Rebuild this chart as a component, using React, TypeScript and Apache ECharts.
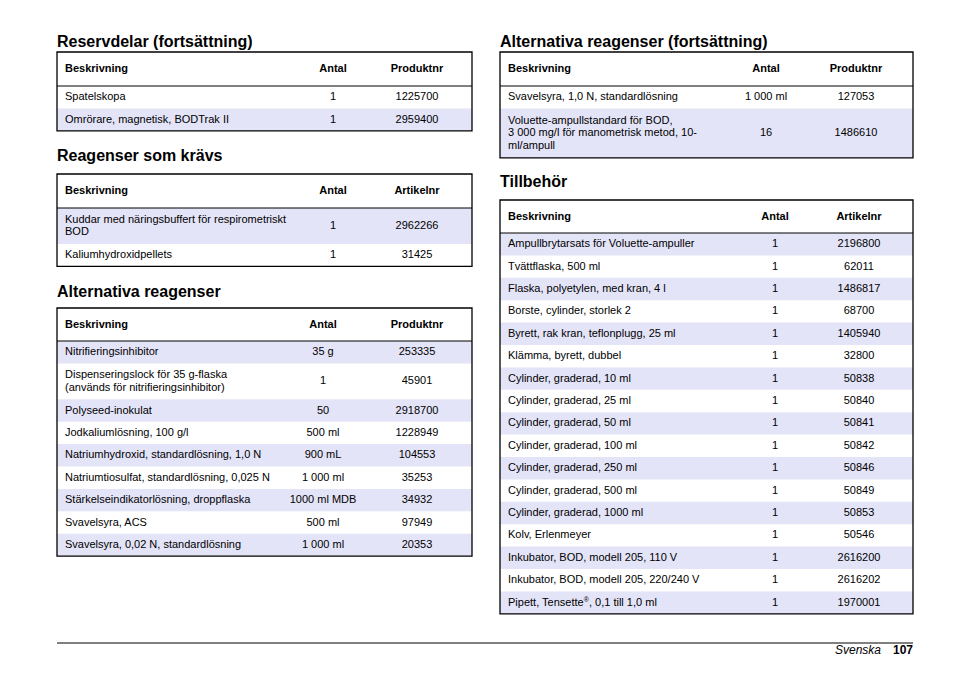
import React, { useEffect, useRef } from "react";
import * as echarts from "echarts";

const FONT = "'Liberation Sans', Arial, Helvetica, sans-serif";
const SHADE = "#E4E4F8";

// ---------- Data ----------
const t1Title = "Reservdelar (fortsättning)";
const t1Headers = ["Beskrivning", "Antal", "Produktnr"];
const t1Desc = ["Spatelskopa", "Omrörare, magnetisk, BODTrak II"];
const t1Qty = ["1", "1"];
const t1Nr = ["1225700", "2959400"];

const t2Title = "Reagenser som krävs";
const t2Headers = ["Beskrivning", "Antal", "Artikelnr"];
const t2Desc = ["Kuddar med näringsbuffert för respirometriskt\nBOD", "Kaliumhydroxidpellets"];
const t2Qty = ["1", "1"];
const t2Nr = ["2962266", "31425"];

const t3Title = "Alternativa reagenser";
const t3Headers = ["Beskrivning", "Antal", "Produktnr"];
const t3Desc = [
  "Nitrifieringsinhibitor",
  "Dispenseringslock för 35 g-flaska\n(används för nitrifieringsinhibitor)",
  "Polyseed-inokulat",
  "Jodkaliumlösning, 100 g/l",
  "Natriumhydroxid, standardlösning, 1,0 N",
  "Natriumtiosulfat, standardlösning, 0,025 N",
  "Stärkelseindikatorlösning, droppflaska",
  "Svavelsyra, ACS",
  "Svavelsyra, 0,02 N, standardlösning",
];
const t3Qty = ["35 g", "1", "50", "500 ml", "900 mL", "1 000 ml", "1000 ml MDB", "500 ml", "1 000 ml"];
const t3Nr = ["253335", "45901", "2918700", "1228949", "104553", "35253", "34932", "97949", "20353"];

const t4Title = "Alternativa reagenser (fortsättning)";
const t4Headers = ["Beskrivning", "Antal", "Produktnr"];
const t4Desc = [
  "Svavelsyra, 1,0 N, standardlösning",
  "Voluette-ampullstandard för BOD,\n3 000 mg/l för manometrisk metod, 10-\nml/ampull",
];
const t4Qty = ["1 000 ml", "16"];
const t4Nr = ["127053", "1486610"];

const t5Title = "Tillbehör";
const t5Headers = ["Beskrivning", "Antal", "Artikelnr"];
const t5Desc = [
  "Ampullbrytarsats för Voluette-ampuller",
  "Tvättflaska, 500 ml",
  "Flaska, polyetylen, med kran, 4 l",
  "Borste, cylinder, storlek 2",
  "Byrett, rak kran, teflonplugg, 25 ml",
  "Klämma, byrett, dubbel",
  "Cylinder, graderad, 10 ml",
  "Cylinder, graderad, 25 ml",
  "Cylinder, graderad, 50 ml",
  "Cylinder, graderad, 100 ml",
  "Cylinder, graderad, 250 ml",
  "Cylinder, graderad, 500 ml",
  "Cylinder, graderad, 1000 ml",
  "Kolv, Erlenmeyer",
  "Inkubator, BOD, modell 205, 110 V",
  "Inkubator, BOD, modell 205, 220/240 V",
  "Pipett, Tensette®, 0,1 till 1,0 ml",
];
const t5Qty = ["1", "1", "1", "1", "1", "1", "1", "1", "1", "1", "1", "1", "1", "1", "1", "1", "1"];
const t5Nr = [
  "2196800", "62011", "1486817", "68700", "1405940", "32800", "50838", "50840", "50841",
  "50842", "50846", "50849", "50853", "50546", "2616200", "2616202", "1970001",
];

const footerLang = "Svenska";
const footerPage = "107";

// ---------- Layout ----------
const ROW_H = 22.4;
const EXTRA_ROW = 13.5;
const LINE_H = 12.5;

const tables = [
  { title: t1Title, headers: t1Headers, desc: t1Desc, qty: t1Qty, nr: t1Nr,
    x0: 57, x1: 472, titleY: 41, top: 52, headH: 34, qtyX: 333, nrX: 417, shadeFirst: false },
  { title: t2Title, headers: t2Headers, desc: t2Desc, qty: t2Qty, nr: t2Nr,
    x0: 57, x1: 472, titleY: 155, top: 174, headH: 34, qtyX: 333, nrX: 417, shadeFirst: true },
  { title: t3Title, headers: t3Headers, desc: t3Desc, qty: t3Qty, nr: t3Nr,
    x0: 57, x1: 472, titleY: 291, top: 308, headH: 33, qtyX: 323, nrX: 417, shadeFirst: true },
  { title: t4Title, headers: t4Headers, desc: t4Desc, qty: t4Qty, nr: t4Nr,
    x0: 500, x1: 913, titleY: 41, top: 52, headH: 34, qtyX: 766, nrX: 856, shadeFirst: false },
  { title: t5Title, headers: t5Headers, desc: t5Desc, qty: t5Qty, nr: t5Nr,
    x0: 500, x1: 913, titleY: 181, top: 200, headH: 33, qtyX: 775, nrX: 859, shadeFirst: true },
];

function txt(x: number, y: number, text: string, opts: any = {}) {
  return {
    type: "text",
    x,
    y,
    z: 10,
    style: {
      text,
      fill: "#000",
      fontFamily: FONT,
      fontSize: 11,
      fontWeight: "normal",
      align: "left",
      verticalAlign: "middle",
      lineHeight: LINE_H,
      ...opts,
    },
  };
}

function buildTable(t: any) {
  const els: any[] = [];
  els.push(txt(t.x0, t.titleY, t.title, { fontSize: 16, fontWeight: "bold", lineHeight: 18 }));
  let y = t.top + t.headH;
  const rows = t.desc.map((d: string, i: number) => {
    const lines = d.split("\n").length;
    const h = ROW_H + (lines - 1) * EXTRA_ROW;
    const r = { y, h, d, i };
    y += h;
    return r;
  });
  const bottom = y;
  const w = t.x1 - t.x0;
  rows.forEach((r: any) => {
    if ((r.i % 2 === 0) === t.shadeFirst) {
      els.push({ type: "rect", z: 1, shape: { x: t.x0, y: r.y, width: w, height: r.h }, style: { fill: SHADE } });
    }
  });
  els.push({
    type: "rect", z: 5,
    shape: { x: t.x0, y: t.top, width: w, height: bottom - t.top },
    style: { fill: "none", stroke: "#000", lineWidth: 1.3 },
  });
  els.push({
    type: "line", z: 5,
    shape: { x1: t.x0, y1: t.top + t.headH, x2: t.x1, y2: t.top + t.headH },
    style: { stroke: "#000", lineWidth: 1 },
  });
  const hy = t.top + t.headH / 2 - 1;
  els.push(txt(t.x0 + 8, hy, t.headers[0], { fontWeight: "bold" }));
  els.push(txt(t.qtyX, hy, t.headers[1], { fontWeight: "bold", align: "center" }));
  els.push(txt(t.nrX, hy, t.headers[2], { fontWeight: "bold", align: "center" }));
  rows.forEach((r: any) => {
    const cy = r.y + r.h / 2 - 1;
    if (r.d.indexOf("®") >= 0) {
      els.push(txt(t.x0 + 8, cy, r.d.replace("®", "{sup|®}"), {
        rich: { sup: { fontSize: 7, fontFamily: FONT, fill: "#000", padding: [0, 0, 5, 0] } },
      }));
    } else {
      els.push(txt(t.x0 + 8, cy, r.d));
    }
    els.push(txt(t.qtyX, cy, t.qty[r.i], { align: "center" }));
    els.push(txt(t.nrX, cy, t.nr[r.i], { align: "center" }));
  });
  return els;
}

export default function App() {
  const ref = useRef<HTMLDivElement>(null);
  useEffect(() => {
    if (!ref.current) return;
    const chart = echarts.init(ref.current, undefined, { renderer: "svg" });
    const graphic: any[] = [];
    tables.forEach((t) => graphic.push(...buildTable(t)));
    graphic.push({
      type: "line", z: 5,
      shape: { x1: 57, y1: 643, x2: 913, y2: 643 },
      style: { stroke: "#000", lineWidth: 1 },
    });
    graphic.push(txt(913, 650, footerPage, { fontWeight: "bold", fontSize: 12, align: "right" }));
    graphic.push(txt(881, 650, footerLang, { fontStyle: "italic", fontSize: 12, align: "right" }));
    chart.setOption({
      animation: false,
      backgroundColor: "#fff",
      graphic,
    });
    return () => chart.dispose();
  }, []);
  return (
    <div
      ref={ref}
      style={{ position: "fixed", left: 0, top: 0, width: 954, height: 673 }}
    />
  );
}
